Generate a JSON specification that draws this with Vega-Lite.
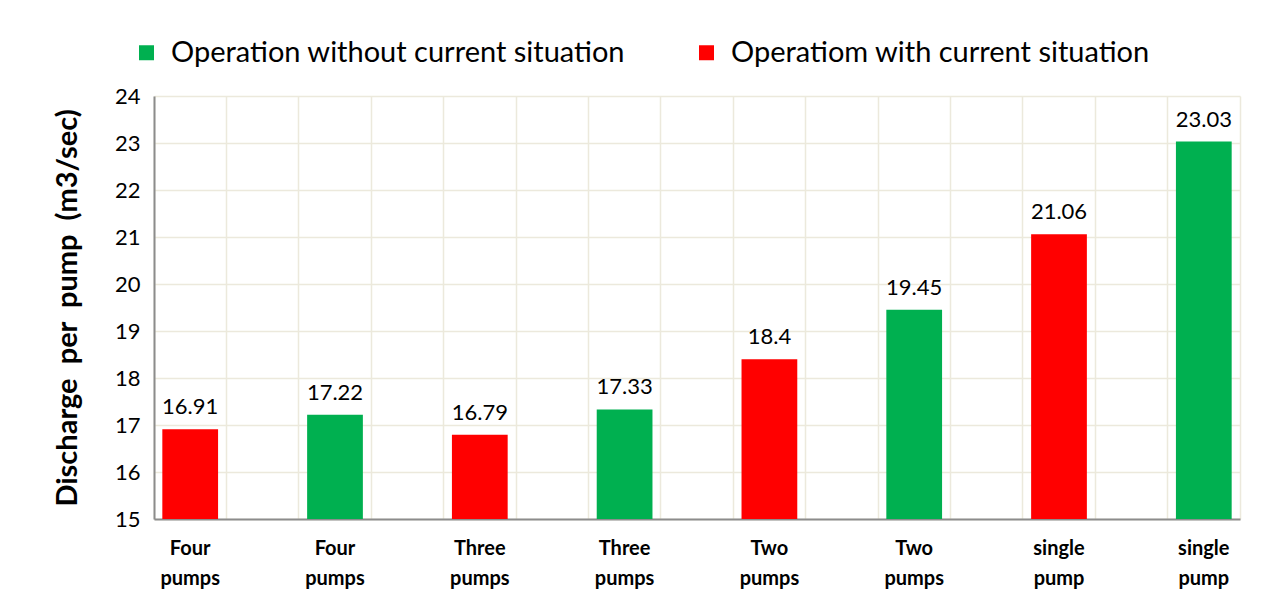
{
  "$schema": "https://vega.github.io/schema/vega-lite/v6.json",
  "width": 1086,
  "height": 423,
  "autosize": {"type": "none"},
  "padding": {"left": 154, "top": 96, "right": 26, "bottom": 80},
  "background": "white",
  "config": {
    "font": "Lato",
    "view": {"stroke": null}
  },
  "data": {
    "values": [
      {"idx": 1, "label": "Four pumps", "series": "Operatiom with current situation", "value": 16.91},
      {"idx": 2, "label": "Four pumps", "series": "Operation without current situation", "value": 17.22},
      {"idx": 3, "label": "Three pumps", "series": "Operatiom with current situation", "value": 16.79},
      {"idx": 4, "label": "Three pumps", "series": "Operation without current situation", "value": 17.33},
      {"idx": 5, "label": "Two pumps", "series": "Operatiom with current situation", "value": 18.4},
      {"idx": 6, "label": "Two pumps", "series": "Operation without current situation", "value": 19.45},
      {"idx": 7, "label": "single pump", "series": "Operatiom with current situation", "value": 21.06},
      {"idx": 8, "label": "single pump", "series": "Operation without current situation", "value": 23.03}
    ]
  },
  "resolve": {"axis": {"x": "independent"}},
  "layer": [
    {
      "mark": {"type": "bar", "width": {"band": 0.77}},
      "encoding": {
        "x": {
          "field": "idx",
          "type": "ordinal",
          "scale": {"paddingInner": 0.5, "paddingOuter": 0},
          "axis": {
            "orient": "bottom",
            "title": null,
            "grid": true,
            "bandPosition": 0,
            "gridColor": "#ECE9DC",
            "gridWidth": 1.5,
            "ticks": false,
            "domain": true,
            "domainColor": "#8C8C8C",
            "domainWidth": 2,
            "labelAngle": 0,
            "labelFont": "Lato",
            "labelFontWeight": "bold",
            "labelFontSize": 20,
            "labelColor": "#000000",
            "labelPadding": 19,
            "labelLineHeight": 30,
            "labelBaseline": "top",
            "labelExpr": "datum.value <= 2 ? ['Four', 'pumps'] : datum.value <= 4 ? ['Three', 'pumps'] : datum.value <= 6 ? ['Two', 'pumps'] : ['single', 'pump']"
          }
        },
        "y": {
          "field": "value",
          "type": "quantitative",
          "scale": {"domain": [15, 24], "nice": false, "zero": false},
          "axis": {
            "title": "Discharge\u00a0 per\u00a0 pump\u00a0 (m3/sec)",
            "titleFontSize": 29,
            "titleFontWeight": "bold",
            "titleColor": "#000000",
            "titlePadding": 32,
            "values": [15, 16, 17, 18, 19, 20, 21, 22, 23, 24],
            "grid": true,
            "gridColor": "#ECE9DC",
            "gridWidth": 1.5,
            "ticks": false,
            "domain": true,
            "domainColor": "#8C8C8C",
            "domainWidth": 2,
            "labelFontSize": 22,
            "labelColor": "#000000",
            "labelPadding": 14
          }
        },
        "y2": {"datum": 15},
        "color": {
          "field": "series",
          "type": "nominal",
          "scale": {
            "domain": ["Operation without current situation", "Operatiom with current situation"],
            "range": ["#00B050", "#FF0000"]
          },
          "legend": {
            "orient": "none",
            "direction": "horizontal",
            "legendX": -22,
            "legendY": -58,
            "title": null,
            "symbolType": "square",
            "symbolSize": 225,
            "symbolStrokeWidth": 0,
            "symbolOpacity": 1,
            "labelFontSize": 29,
            "labelColor": "#000000",
            "labelOffset": 10,
            "labelLimit": 700,
            "columnPadding": 66
          }
        }
      }
    },
    {
      "mark": {"type": "text", "baseline": "bottom", "dy": -10, "fontSize": 22, "color": "#000000"},
      "encoding": {
        "x": {
          "field": "idx",
          "type": "ordinal",
          "axis": {
            "orient": "top",
            "title": null,
            "grid": true,
            "bandPosition": 1,
            "gridColor": "#ECE9DC",
            "gridWidth": 1.5,
            "labels": false,
            "ticks": false,
            "domain": false
          }
        },
        "y": {"field": "value", "type": "quantitative"},
        "text": {"field": "value", "type": "quantitative"}
      }
    }
  ]
}
